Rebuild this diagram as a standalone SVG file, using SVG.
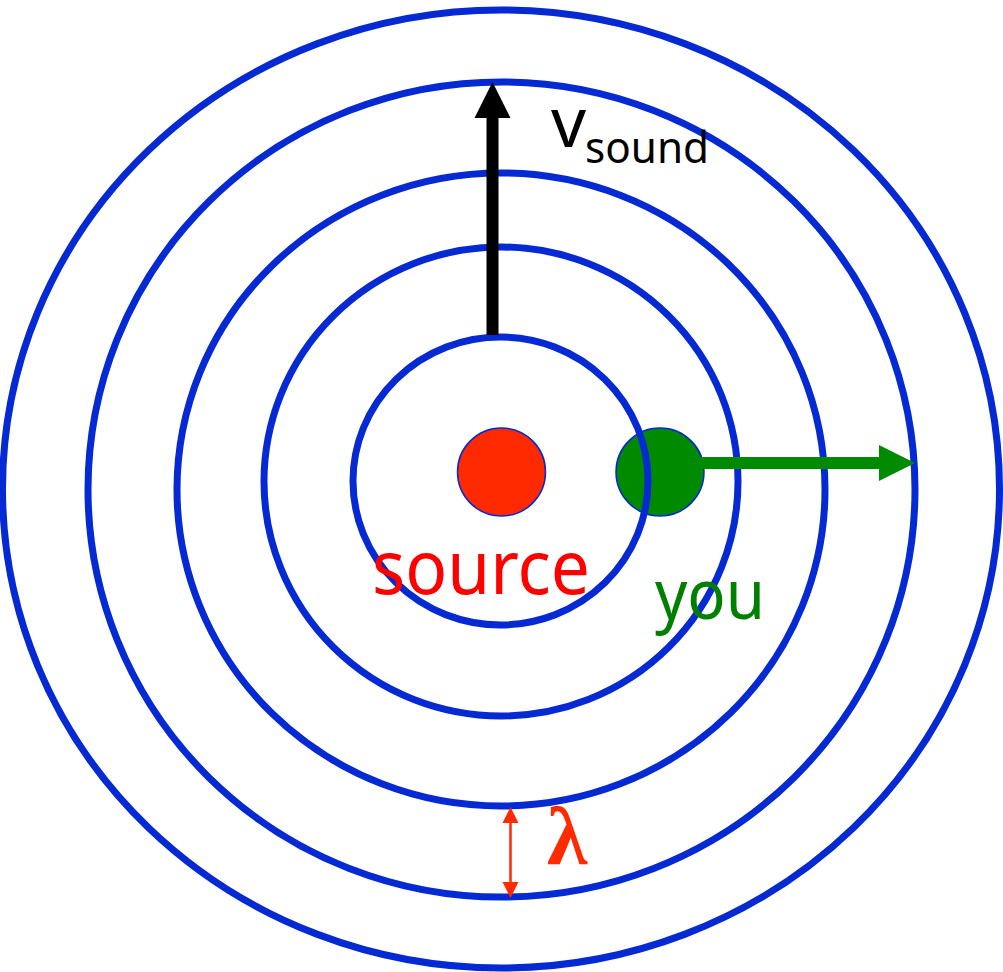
<svg xmlns="http://www.w3.org/2000/svg" width="1003" height="972" viewBox="0 0 1003 972">
  <style>
    .ring { fill: none; stroke: #0529D2; stroke-width: 7; }
    .dot { stroke: #0529D2; stroke-width: 1.5; }
    .lbl { font-family: "Noto Sans", "DejaVu Sans", sans-serif; }
  </style>
  <rect width="1003" height="972" fill="#ffffff"/>
  <g id="source-dot">
    <circle class="dot" cx="501.5" cy="472" r="44" fill="#FF2A00"/>
  </g>
  <g id="you-dot">
    <circle class="dot" cx="660" cy="472" r="44" fill="#008A00"/>
  </g>
  <g id="wavefronts">
    <ellipse id="ring1" class="ring" cx="500.5" cy="481" rx="147.5" ry="144"/>
    <ellipse id="ring2" class="ring" cx="501" cy="481.5" rx="237" ry="234.5"/>
    <ellipse id="ring3" class="ring" cx="501" cy="489.5" rx="324" ry="316.5"/>
    <ellipse id="ring4" class="ring" cx="501.5" cy="489.5" rx="413.5" ry="407.5"/>
    <ellipse id="ring5" class="ring" cx="501" cy="489" rx="498.5" ry="479"/>
  </g>
  <g id="connectors">
    <g id="v-sound-arrow">
      <line x1="492.5" y1="335" x2="492.5" y2="116" stroke="#000000" stroke-width="12"/>
      <polygon points="474.5,118 510.5,118 492.5,82" fill="#000000"/>
    </g>
    <g id="you-arrow">
      <line x1="652" y1="463" x2="881" y2="463" stroke="#008A00" stroke-width="12"/>
      <polygon points="879,445 879,481 915,463" fill="#008A00"/>
    </g>
    <g id="lambda-arrow">
      <line x1="510.5" y1="821" x2="510.5" y2="884" stroke="#FF2A00" stroke-width="2.5"/>
      <polygon points="502.5,823 518.5,823 510.5,807" fill="#FF2A00"/>
      <polygon points="502.5,882 518.5,882 510.5,898" fill="#FF2A00"/>
    </g>
  </g>
  <g id="label-source">
    <text class="lbl" x="372" y="594" font-size="75" fill="#FF0000" textLength="218" lengthAdjust="spacingAndGlyphs">source</text>
  </g>
  <g id="label-you">
    <text class="lbl" x="655" y="619" font-size="70" fill="#008000" textLength="110" lengthAdjust="spacingAndGlyphs">you</text>
  </g>
  <g id="label-vsound">
    <text class="lbl" x="551" y="147" font-size="69" fill="#000000">v</text>
    <text class="lbl" x="585" y="163" font-size="43" fill="#000000" textLength="124" lengthAdjust="spacingAndGlyphs">sound</text>
  </g>
  <g id="label-lambda">
    <text x="547" y="864" font-family="'Liberation Serif', 'DejaVu Serif', serif" font-weight="bold" font-size="82" fill="#FF2A00">λ</text>
  </g>
</svg>
